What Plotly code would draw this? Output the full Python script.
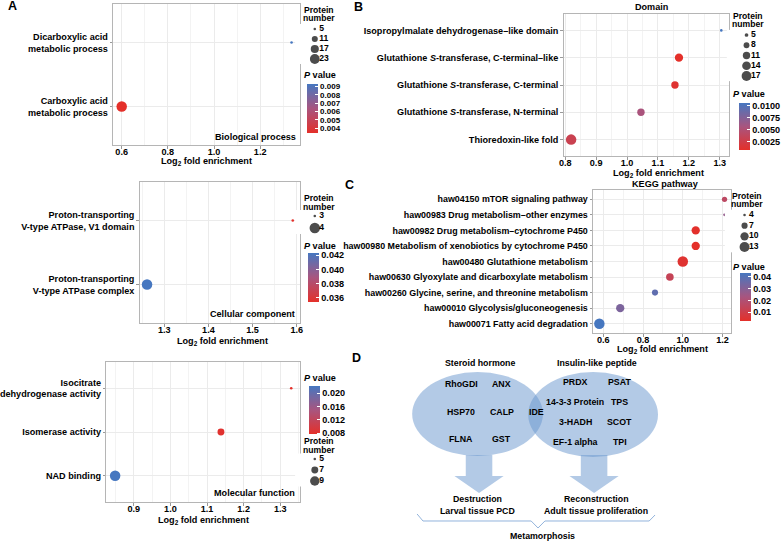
import plotly.graph_objects as go
import math

W, H = 783, 541
FONT = "Liberation Sans"
FS = 9.1
FSD = 8.8
FSL = 8.6

# ------------------------- DATA -------------------------
bp_terms = ["Dicarboxylic acid<br>metabolic process", "Carboxylic acid<br>metabolic process"]
bp_fold = [1.336, 0.600]
bp_count = [5, 26]
bp_p = [0.0093, 0.0034]

cc_terms = ["Proton-transporting<br>V-type ATPase, V1 domain", "Proton-transporting<br>V-type ATPase complex"]
cc_fold = [1.591, 1.261]
cc_count = [3, 4]
cc_p = [0.0354, 0.0423]

mf_terms = ["Isocitrate<br>dehydrogenase activity", "Isomerase activity", "NAD binding"]
mf_fold = [1.330, 1.138, 0.849]
mf_count = [5, 7, 10]
mf_p = [0.0077, 0.0081, 0.0221]

dom_terms = ["Isopropylmalate dehydrogenase\u2013like domain",
             "Glutathione <i>S</i>-transferase, C-terminal\u2013like",
             "Glutathione <i>S</i>-transferase, C-terminal",
             "Glutathione <i>S</i>-transferase, N-terminal",
             "Thioredoxin-like fold"]
dom_fold = [1.305, 1.168, 1.155, 1.045, 0.819]
dom_count = [4, 13, 11, 11, 19]
dom_p = [0.0106, 0.0008, 0.0012, 0.0055, 0.0030]

kegg_terms = ["haw04150 mTOR signaling pathway",
              "haw00983 Drug metabolism\u2013other enzymes",
              "haw00982 Drug metabolism\u2013cytochrome P450",
              "haw00980 Metabolism of xenobiotics by cytochrome P450",
              "haw00480 Glutathione metabolism",
              "haw00630 Glyoxylate and dicarboxylate metabolism",
              "haw00260 Glycine, serine, and threonine metabolism",
              "haw00010 Glycolysis/gluconeogenesis",
              "haw00071 Fatty acid degradation"]
kegg_fold = [1.21, 1.21, 1.065, 1.065, 1.00, 0.935, 0.86, 0.685, 0.58]
kegg_count = [6, 4, 10, 10, 14, 9, 7, 10, 14]
kegg_p = [0.016, 0.027, 0.0025, 0.0023, 0.004, 0.013, 0.038, 0.032, 0.0434]

# legend breaks / tick labels
bp_breaks = [5, 11, 17, 23]
cc_breaks = [3, 4]
mf_breaks = [5, 7, 9]
dom_breaks = [5, 8, 11, 14, 17]
kegg_breaks = [4, 7, 10, 13]

bp_pticks = [0.004, 0.005, 0.006, 0.007, 0.008, 0.009]
cc_pticks = [0.036, 0.038, 0.040, 0.042]
mf_pticks = [0.008, 0.012, 0.016, 0.020]
dom_pticks = [0.0025, 0.0050, 0.0075, 0.0100]
kegg_pticks = [0.01, 0.02, 0.03, 0.04]

bp_xticks = [0.6, 0.8, 1.0, 1.2]
cc_xticks = [1.3, 1.4, 1.5, 1.6]
mf_xticks = [0.9, 1.0, 1.1, 1.2, 1.3]
dom_xticks = [0.8, 0.9, 1.0, 1.1, 1.2, 1.3]
kegg_xticks = [0.6, 0.8, 1.0, 1.2]

steroid_genes = ["RhoGDI", "ANX", "HSP70", "CALP", "FLNA", "GST"]
insulin_genes = ["PRDX", "PSAT", "14-3-3 Protein", "TPS", "3-HADH", "SCOT", "EF-1 alpha", "TPI"]
shared_genes = ["IDE"]

# ------------------------- HELPERS -------------------------
def fx(p):
    return p / W

def fy(p):
    return 1 - p / H

def b(t):
    return "<b>" + t + "</b>"

def diam(n, nmin, nmax, dmin=2.6, dmax=10.5):
    t = 0 if nmax == nmin else (n - nmin) / (nmax - nmin)
    t = max(0.0, min(1.0, t))
    return math.sqrt(dmin ** 2 + t * (dmax ** 2 - dmin ** 2))

CSCALE = [[0, "#E4302A"], [0.5, "#A8557F"], [1, "#4677C0"]]
GRID = "#EBEBEB"
MINOR = "#F3F3F3"
BORDER = "#B5B5B5"

def font(size=FS):
    return dict(family=FONT, size=size, color="black", weight="bold")

BASEFONT = font()

def axn(i, kind):
    return kind + "axis" + ("" if i == 1 else str(i))

def axr(i, kind):
    return kind + ("" if i == 1 else str(i))

panels = [
    dict(terms=bp_terms, fold=bp_fold, count=bp_count, p=bp_p, xticks=bp_xticks, dtick=0.2,
         pticks=bp_pticks, pfmt="{:.3f}", breaks=bp_breaks, box=(108, 298, 4, 145), ytfs=FS, cbfs=8.0,
         cbar=(305, 84, 49), ptitle=(301, 75), legtitle=(317, 10, 18.5), leg=(313, 29, 59),
         inner=("Biological process", 295, 137), xtitle=(203, 161)),
    dict(terms=cc_terms, fold=cc_fold, count=cc_count, p=cc_p, xticks=cc_xticks, dtick=0.1,
         pticks=cc_pticks, pfmt="{:.3f}", breaks=cc_breaks, box=(135, 298, 182, 323), ytfs=FS, cbfs=FS,
         cbar=(306, 253, 49), ptitle=(301, 246), legtitle=(317, 198, 206.5), leg=(313, 216, 228),
         inner=("Cellular component", 294, 314), xtitle=(219, 341)),
    dict(terms=mf_terms, fold=mf_fold, count=mf_count, p=mf_p, xticks=mf_xticks, dtick=0.1,
         pticks=mf_pticks, pfmt="{:.3f}", breaks=mf_breaks, box=(101, 298, 362, 502), ytfs=FS, cbfs=FS,
         cbar=(307, 386, 48), ptitle=(301, 378), legtitle=(317, 441, 449.5), leg=(313, 459, 481),
         inner=("Molecular function", 294, 493), xtitle=(200, 520)),
    dict(terms=dom_terms, fold=dom_fold, count=dom_count, p=dom_p, xticks=dom_xticks, dtick=0.1,
         pticks=dom_pticks, pfmt="{:.4f}", breaks=dom_breaks, box=(566, 734, 14, 156), ytfs=FS, cbfs=FS,
         cbar=(744, 103, 47), ptitle=(737, 94), legtitle=(754, 15.5, 24), leg=(752, 35, 76),
         inner=None, xtitle=(662, 173), title=("Domain", 655, 7)),
    dict(terms=kegg_terms, fold=kegg_fold, count=kegg_count, p=kegg_p, xticks=kegg_xticks, dtick=0.2,
         pticks=kegg_pticks, pfmt="{:.2f}", breaks=kegg_breaks, box=(596, 736, 190, 333), ytfs=8.9, cbfs=FS,
         cbar=(745, 273, 48), ptitle=(737, 267), legtitle=(753, 195.5, 204), leg=(750, 215, 247),
         inner=None, xtitle=(667, 349), title=("KEGG pathway", 670, 184)),
]

fig = go.Figure()
layout = dict(width=W, height=H, margin=dict(l=0, r=0, t=0, b=0), autosize=False,
              paper_bgcolor="white", plot_bgcolor="white", font=BASEFONT, showlegend=False)
annotations = []
shapes = []

def ann(text, x, y, xanchor="center", yanchor="middle", size=FS):
    annotations.append(dict(text=b(text), x=fx(x), y=fy(y), xref="paper", yref="paper",
                            xanchor=xanchor, yanchor=yanchor, showarrow=False, borderpad=0,
                            font=font(size)))

n_pan = len(panels)
for k, pn in enumerate(panels, start=1):
    x0, x1, y0, y1 = pn["box"]
    fmin, fmax = min(pn["fold"]), max(pn["fold"])
    ex = 0.05 * (fmax - fmin)
    nmin, nmax = min(pn["count"]), max(pn["count"])
    n = len(pn["terms"])
    layout[axn(k, "x")] = dict(
        domain=[fx(x0), fx(x1)], range=[fmin - ex, fmax + ex], anchor=axr(k, "y"),
        tickmode="array", tickvals=pn["xticks"], ticktext=[b(f"{v:.1f}") for v in pn["xticks"]],
        showgrid=True, gridcolor=GRID, gridwidth=1,
        minor=dict(tickmode="linear", tick0=pn["xticks"][0], dtick=pn["dtick"] / 2,
                   showgrid=True, gridcolor=MINOR, gridwidth=0.8, ticks=""),
        showline=True, mirror=True, linecolor=BORDER, linewidth=1, zeroline=False,
        ticks="outside", ticklen=2.5, tickcolor="#999999", tickwidth=1, tickfont=BASEFONT,
        ticklabelstandoff=-4)
    layout[axn(k, "y")] = dict(
        domain=[fy(y1), fy(y0)], anchor=axr(k, "x"), type="category",
        categoryorder="array", categoryarray=list(reversed(pn["terms"])),
        tickmode="array", tickvals=pn["terms"], ticktext=[b(t) for t in pn["terms"]],
        range=[-0.6, n - 0.4], showgrid=True, gridcolor=GRID, gridwidth=1,
        showline=True, mirror=True, linecolor=BORDER, linewidth=1, zeroline=False,
        ticks="outside", ticklen=2.5, tickcolor="#999999", tickwidth=1, tickfont=font(pn["ytfs"]))
    cax = "coloraxis" + ("" if k == 1 else str(k))
    cx, cy, clen = pn["cbar"]
    layout[cax] = dict(
        colorscale=CSCALE, cmin=min(pn["p"]), cmax=max(pn["p"]),
        colorbar=dict(x=fx(cx), xanchor="left", y=fy(cy), yanchor="top", xref="paper", yref="paper",
                      len=clen, lenmode="pixels", thickness=11, thicknessmode="pixels",
                      xpad=0, ypad=0, outlinewidth=0, tickmode="array", tickvals=pn["pticks"],
                      ticktext=[b(pn["pfmt"].format(v)) for v in pn["pticks"]],
                      ticks="inside", ticklen=3, tickcolor="white",
                      tickfont=font(pn["cbfs"]), title=dict(text="")))
    fig.add_trace(go.Scatter(
        x=pn["fold"], y=pn["terms"], mode="markers", cliponaxis=False,
        marker=dict(size=[diam(c, nmin, nmax) for c in pn["count"]], color=pn["p"], coloraxis=cax,
                    line=dict(width=0), opacity=1),
        xaxis=axr(k, "x"), yaxis=axr(k, "y"), hoverinfo="skip"))
    # size legend (own hidden axes)
    j = k + n_pan
    lx, ly0, ly1 = pn["leg"]
    nb = len(pn["breaks"])
    step = (ly1 - ly0) / (nb - 1)
    layout[axn(j, "x")] = dict(domain=[fx(lx - 20), fx(lx + 20)], range=[-20, 20],
                               visible=False, anchor=axr(j, "y"), fixedrange=True)
    layout[axn(j, "y")] = dict(domain=[fy(ly1 + step / 2), fy(ly0 - step / 2)],
                               range=[nb - 0.5, -0.5], visible=False, anchor=axr(j, "x"), fixedrange=True)
    idx = list(range(nb))
    fig.add_trace(go.Scatter(
        x=[0] * nb, y=idx, mode="markers", cliponaxis=False,
        marker=dict(size=[diam(v, nmin, nmax) for v in pn["breaks"]], color="black", line=dict(width=0)),
        xaxis=axr(j, "x"), yaxis=axr(j, "y"), hoverinfo="skip"))
    fig.add_trace(go.Scatter(
        x=[4.5] * nb, y=idx, mode="text", text=[b(str(v)) for v in pn["breaks"]],
        textposition="middle right", cliponaxis=False, textfont=font(FSL),
        xaxis=axr(j, "x"), yaxis=axr(j, "y"), hoverinfo="skip"))
    # annotations
    tx, ty1, ty2 = pn["legtitle"]
    ann("Protein", tx, ty1, size=FSL)
    ann("number", tx, ty2, size=FSL)
    ann("<i>P</i> value", pn["ptitle"][0], pn["ptitle"][1], xanchor="left")
    ann("Log<sub>2</sub> fold enrichment", pn["xtitle"][0], pn["xtitle"][1])
    if pn.get("inner"):
        t, ix, iy = pn["inner"]
        ann(t, ix, iy, xanchor="right")
    if pn.get("title"):
        t, tx_, ty_ = pn["title"]
        ann(t, tx_, ty_)

# panel letters
for letter, lx, ly in [("A", 6, 6), ("B", 357, 7), ("C", 348, 185), ("D", 355, 358)]:
    ann(letter, lx, ly, size=12.5)

# ------------------------- PANEL D (Venn diagram) -------------------------
ARROW = "#B3CAE6"
def path(pts, close=True):
    s = "M " + " L ".join(f"{fx(a):.5f},{fy(c):.5f}" for a, c in pts)
    return s + (" Z" if close else "")

for cxa, tipy in [(480, 493), (597, 493)]:
    hw, hh = 13.5, 25
    pts = [(cxa - hw, 455), (cxa + hw, 455), (cxa + hw, 476), (cxa + hh, 476),
           (cxa, tipy), (cxa - hh, 476), (cxa - hw, 476)]
    shapes.append(dict(type="path", path=path(pts), xref="paper", yref="paper",
                       fillcolor=ARROW, line=dict(width=0)))

for ex0, ex1, ey0, ey1 in [(412, 545, 372, 456), (530, 662, 372, 457)]:
    shapes.append(dict(type="circle", xref="paper", yref="paper",
                       x0=fx(ex0), x1=fx(ex1), y0=fy(ey1), y1=fy(ey0),
                       fillcolor="rgba(103,149,205,0.5)", line=dict(width=0)))

brace = [(417, 514), (423, 521), (533, 521), (540, 528), (547, 521), (653, 521), (659, 515)]
shapes.append(dict(type="path", path=path(brace, close=False), xref="paper", yref="paper",
                   line=dict(color="#93B4DC", width=1)))

ann("Steroid hormone", 481, 363, size=FSD)
ann("Insulin-like peptide", 600, 363, size=FSD)
s_cols = [462, 503]
s_rows = [384, 412, 439]
for i, g in enumerate(steroid_genes):
    ann(g, s_cols[i % 2], s_rows[i // 2], size=FSD)
i_cols = [578, 623]
i_rows = [382, 402, 422, 442]
for i, g in enumerate(insulin_genes):
    ann(g, i_cols[i % 2], i_rows[i // 2], size=FSD)
for g in shared_genes:
    ann(g, 538, 412, size=FSD)
ann("Destruction", 478, 499, size=FSD)
ann("Larval tissue PCD", 478, 511, size=FSD)
ann("Reconstruction", 599, 499, size=FSD)
ann("Adult tissue proliferation", 599, 511, size=FSD)
ann("Metamorphosis", 545, 536, size=FSD)

layout["annotations"] = annotations
layout["shapes"] = shapes
fig.update_layout(**layout)
fig.write_html("out.html", config={"displayModeBar": False},
               post_script="document.body.style.margin='0px';document.body.style.padding='0px';")
